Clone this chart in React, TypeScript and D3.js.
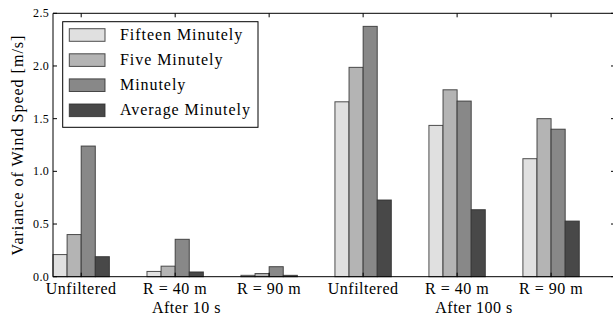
import React, { useRef, useEffect } from 'react';
import * as d3 from 'd3';

const tickLabels = ['Unfiltered', 'R = 40 m', 'R = 90 m', 'Unfiltered', 'R = 40 m', 'R = 90 m'];
const seriesNames = ['Fifteen Minutely', 'Five Minutely', 'Minutely', 'Average Minutely'];
const seriesColors = ['#e0e0e0', '#b4b4b4', '#888888', '#484848'];
const fifteenMinutely = [0.21, 0.05, 0.013, 1.66, 1.436, 1.12];
const fiveMinutely = [0.4, 0.1, 0.03, 1.987, 1.774, 1.5];
const minutely = [1.24, 0.355, 0.095, 2.376, 1.667, 1.4];
const averageMinutely = [0.19, 0.045, 0.013, 0.728, 0.636, 0.528];
const yTicks = [0, 0.5, 1.0, 1.5, 2.0, 2.5];
const groupLabels = [
  { text: 'After 10 s', at: 1.12 },
  { text: 'After 100 s', at: 4.18 },
];

const W = 613;
const H = 322;
const FONT = "'Liberation Serif'";

const App: React.FC = () => {
  const svgRef = useRef<SVGSVGElement>(null);

  useEffect(() => {
    const svg = d3.select(svgRef.current);
    svg.selectAll('*').remove();

    const left = 53;
    const right = 615;
    const top = 13.3;
    const bottom = 276.7;
    const barW = 0.15;

    const x = d3.scaleLinear().domain([-0.3, 5.68]).range([left, right]);
    const y = d3.scaleLinear().domain([0, 2.5]).range([bottom, top]);

    const series = [fifteenMinutely, fiveMinutely, minutely, averageMinutely];

    const label = (sel: d3.Selection<SVGTextElement, unknown, null, undefined>, size: number, ls = 0.5) =>
      sel
        .style('font-family', FONT)
        .style('font-size', `${size}px`)
        .style('letter-spacing', `${ls}px`)
        .attr('fill', '#000');

    // bars
    series.forEach((vals, si) => {
      svg
        .append('g')
        .selectAll('rect')
        .data(vals)
        .enter()
        .append('rect')
        .attr('x', (_, i) => x(i - 2 * barW + si * barW))
        .attr('y', d => y(d))
        .attr('width', x(barW) - x(0))
        .attr('height', d => y(0) - y(d))
        .attr('fill', seriesColors[si])
        .attr('stroke', '#303030')
        .attr('stroke-opacity', 0.85)
        .attr('stroke-width', 1);
    });

    // spines
    const frame = svg.append('g').attr('stroke', '#000').attr('stroke-width', 1).attr('fill', 'none');
    frame.append('line').attr('x1', left).attr('x2', left).attr('y1', top).attr('y2', bottom);
    frame.append('line').attr('x1', left).attr('x2', right).attr('y1', top).attr('y2', top);
    frame.append('line').attr('x1', left).attr('x2', right).attr('y1', bottom).attr('y2', bottom);
    frame.append('line').attr('x1', right).attr('x2', right).attr('y1', top).attr('y2', bottom);

    // y ticks (inward, both sides)
    yTicks.forEach(t => {
      frame.append('line').attr('x1', left).attr('x2', left + 4).attr('y1', y(t)).attr('y2', y(t));
      frame.append('line').attr('x1', right - 4).attr('x2', right).attr('y1', y(t)).attr('y2', y(t));
      label(
        svg
          .append('text')
          .attr('x', left - 4)
          .attr('y', y(t) + 4)
          .attr('text-anchor', 'end'),
        12,
        0.3
      ).text(t.toFixed(1));
    });

    // x ticks (inward, top and bottom)
    tickLabels.forEach((lab, i) => {
      frame.append('line').attr('x1', x(i)).attr('x2', x(i)).attr('y1', top).attr('y2', top + 4);
      frame.append('line').attr('x1', x(i)).attr('x2', x(i)).attr('y1', bottom - 4).attr('y2', bottom);
      label(
        svg
          .append('text')
          .attr('x', x(i))
          .attr('y', bottom + 17)
          .attr('text-anchor', 'middle'),
        16
      ).text(lab);
    });

    groupLabels.forEach(g => {
      label(
        svg
          .append('text')
          .attr('x', x(g.at))
          .attr('y', bottom + 36)
          .attr('text-anchor', 'middle'),
        16
      ).text(g.text);
    });

    // y label
    label(
      svg
        .append('text')
        .attr('transform', `translate(23,${(top + bottom) / 2}) rotate(-90)`)
        .attr('text-anchor', 'middle'),
      16,
      1
    ).text('Variance of Wind Speed [m/s]');

    // legend
    const lg = svg.append('g');
    lg.append('rect')
      .attr('x', 62.7)
      .attr('y', 21.7)
      .attr('width', 195.3)
      .attr('height', 105.6)
      .attr('fill', '#fff')
      .attr('stroke', '#000')
      .attr('stroke-width', 1);
    seriesNames.forEach((name, i) => {
      const cy = 35 + i * 25.1;
      lg.append('rect')
        .attr('x', 69.3)
        .attr('y', cy - 6.3)
        .attr('width', 35.7)
        .attr('height', 12.6)
        .attr('fill', seriesColors[i])
        .attr('stroke', '#303030')
        .attr('stroke-opacity', 0.85);
      label(
        lg
          .append('text')
          .attr('x', 120)
          .attr('y', cy + 5),
        16,
        0.95
      ).text(name);
    });
  }, []);

  return (
    <div style={{ position: 'fixed', left: 0, top: 0 }}>
      <svg ref={svgRef} width={W} height={H} style={{ display: 'block', background: '#fff' }} />
    </div>
  );
};

export default App;
